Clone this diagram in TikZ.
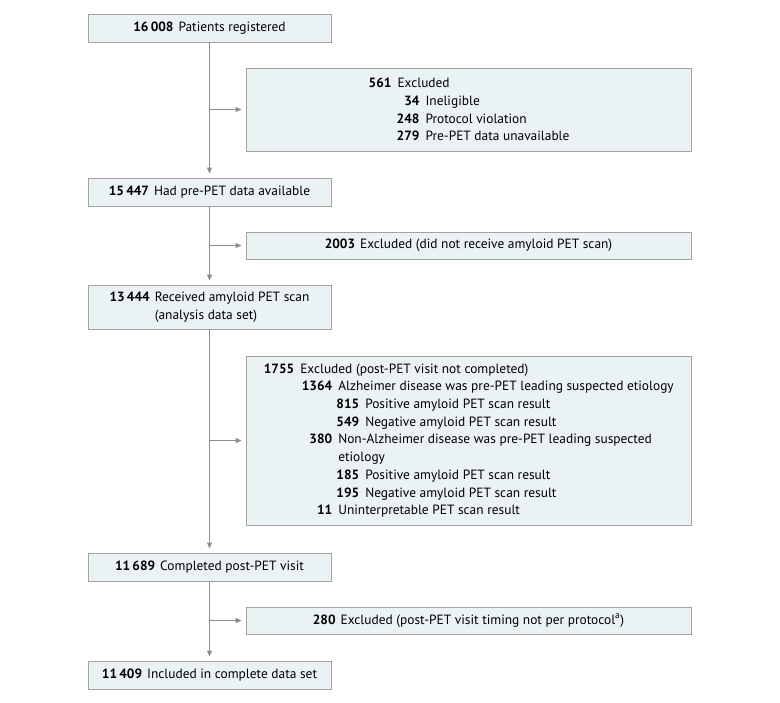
\documentclass[tikz,border=0pt]{standalone}
\usepackage{fontspec}
\setmainfont{PT Sans}
\usetikzlibrary{arrows.meta}
\definecolor{boxfill}{HTML}{EAF2F4}
\definecolor{boxline}{HTML}{A3A3A3}
\definecolor{linkcol}{HTML}{8C8C8C}
\newcommand{\nm}[1]{\textbf{#1}\hspace{5pt}}
\newcommand{\lv}[3]{\makebox[#1pt][r]{\textbf{#2}}\hspace{6pt}#3}
\begin{document}
\begin{tikzpicture}[x=1pt,y=-1pt,
  font=\fontsize{13.4}{17.7}\selectfont,
  mainbox/.style={draw=boxline,fill=boxfill,line width=0.9pt,minimum width=243pt,inner sep=0pt,align=left},
  exbox/.style={draw=boxline,fill=boxfill,line width=0.9pt,minimum width=445pt,inner sep=0pt,align=left},
  arr/.style={draw=linkcol,line width=0.9pt,-{Triangle[length=6pt,width=5pt]},shorten >=4pt}]
\useasboundingbox (0,0) rectangle (780,703);
\node[mainbox,minimum height=28pt] (b1) at (209.5,28) {\nm{16\,008}Patients registered};
\node[exbox,minimum height=83pt] (e1) at (468.5,109.5) {\lv{24}{561}{Excluded}\\
\lv{52}{34}{Ineligible}\\
\lv{52}{248}{Protocol violation}\\
\lv{52}{279}{Pre-PET data unavailable}};
\node[mainbox,minimum height=28pt] (b2) at (209.5,192) {\nm{15\,447}Had pre-PET data available};
\node[exbox,minimum height=27pt] (e2) at (468.5,245.5) {\nm{2003}Excluded (did not receive amyloid PET scan)};
\node[mainbox,minimum height=44pt] (b3) at (209.5,307) {\nm{13\,444}Received amyloid PET scan\\
\phantom{\nm{13\,444}}(analysis data set)};
\node[exbox,minimum height=169pt] (e3) at (468.5,440.5) {\lv{31}{1755}{Excluded (post-PET visit not completed)}\\
\lv{69}{1364}{Alzheimer disease was pre-PET leading suspected etiology}\\
\lv{96}{815}{Positive amyloid PET scan result}\\
\lv{96}{549}{Negative amyloid PET scan result}\\
\lv{69}{380}{Non-Alzheimer disease was pre-PET leading suspected}\\
\hspace*{75pt}etiology\\
\lv{96}{185}{Positive amyloid PET scan result}\\
\lv{96}{195}{Negative amyloid PET scan result}\\
\lv{69}{11}{Uninterpretable PET scan result}};
\node[mainbox,minimum height=28pt] (b4) at (209.5,567) {\nm{11\,689}Completed post-PET visit};
\node[exbox,minimum height=27pt] (e4) at (468.5,620.5) {\nm{280}Excluded (post-PET visit timing not per protocol\textsuperscript{a})};
\node[mainbox,minimum height=28pt] (b5) at (209.5,675) {\nm{11\,409}Included in complete data set};
\draw[arr] (b1) -- (b2);
\draw[arr] (b2) -- (b3);
\draw[arr] (b3) -- (b4);
\draw[arr] (b4) -- (b5);
\draw[arr] (b1.south |- e1.west) -- (e1.west);
\draw[arr] (b2.south |- e2.west) -- (e2.west);
\draw[arr] (b3.south |- e3.west) -- (e3.west);
\draw[arr] (b4.south |- e4.west) -- (e4.west);
\end{tikzpicture}
\end{document}
